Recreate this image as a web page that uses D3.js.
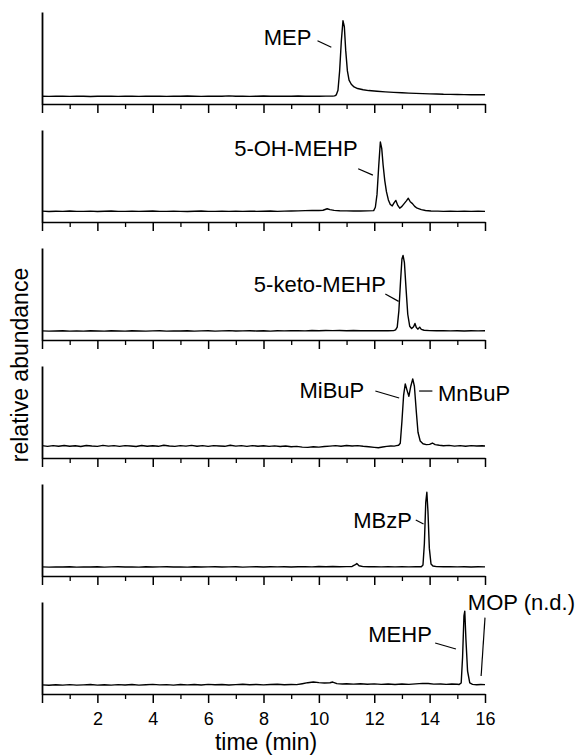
<!DOCTYPE html>
<html><head><meta charset="utf-8">
<script src="https://cdn.jsdelivr.net/npm/d3@7"></script>
<style>body{margin:0;background:#fff}svg{display:block}</style>
</head><body>
<svg id="chart" width="581" height="756"></svg>
<script>
// ---------- data ----------
const majorTicks = [0, 2, 4, 6, 8, 10, 12, 14, 16];
const minorTicks = [1, 3, 5, 7, 9, 11, 13, 15];
const tickLabels = ["", "2", "4", "6", "8", "10", "12", "14", "16"];
const xTitle = "time (min)";
const yTitle = "relative abundance";

// [time (min), relative signal]
const traceMEP = [[0,8.5],[0.25,8.3],[0.5,8.4],[0.75,8.6],[1,8.3],[1.25,8.5],[1.5,8.4],[1.75,8.2],[2,8.5],[2.25,8.4],[2.5,8.6],[2.75,8.3],[3,8.4],[3.25,8.5],[3.5,8.3],[3.75,8.6],[4,8.4],[4.25,8.5],[4.5,8.3],[4.75,8.6],[5,8.4],[5.25,8.7],[5.5,8.5],[5.75,8.3],[6,8.6],[6.25,8.4],[6.5,8.5],[6.75,8.8],[7,8.4],[7.25,8.6],[7.5,8.3],[7.75,8.5],[8,8.7],[8.25,8.4],[8.5,8.6],[8.75,8.5],[9,8.4],[9.25,8.7],[9.5,8.5],[9.75,8.6],[10,8.4],[10.25,8.6],[10.5,8.6],[10.57,8.8],[10.63,10],[10.69,15],[10.75,36],[10.81,68],[10.87,90.5],[10.92,84],[10.97,58],[11.03,36],[11.09,26],[11.17,21.5],[11.27,18.5],[11.4,16.8],[11.6,15.5],[11.8,14.6],[12.1,13.8],[12.4,13.2],[12.7,12.6],[13,12.2],[13.25,11.8],[13.5,11.5],[13.75,11.3],[14,11],[14.25,10.9],[14.5,10.6],[14.75,10.5],[15,10.4],[15.25,10.2],[15.5,10.1],[15.75,10.2],[16,10]];

const trace5OH = [[0,11.8],[0.25,11.4],[0.5,11.7],[0.75,11.5],[1,11.9],[1.25,11.5],[1.5,11.6],[1.75,11.8],[2,11.4],[2.25,11.7],[2.5,11.9],[2.75,11.5],[3,11.6],[3.25,11.8],[3.5,11.5],[3.75,11.7],[4,11.9],[4.25,11.5],[4.5,11.6],[4.75,11.8],[5,11.6],[5.25,11.4],[5.5,11.7],[5.75,11.9],[6,11.6],[6.25,11.5],[6.5,11.8],[6.75,11.6],[7,11.7],[7.25,11.5],[7.5,11.8],[7.75,11.6],[8,11.7],[8.25,11.9],[8.5,11.6],[8.75,11.8],[9,11.9],[9.25,12.1],[9.5,12.4],[9.75,12.6],[10,12.5],[10.15,12.8],[10.3,14.4],[10.4,13.4],[10.55,12.6],[10.75,12.2],[11,12.1],[11.25,12],[11.5,11.9],[11.75,12.1],[11.98,12.4],[12.04,16],[12.1,30],[12.16,60],[12.22,87],[12.27,80],[12.32,62],[12.38,45],[12.44,33],[12.51,24],[12.58,19],[12.65,17.5],[12.72,21],[12.78,23.5],[12.85,18],[12.92,15],[13,17],[13.08,20],[13.16,23],[13.23,25.8],[13.3,22],[13.38,20],[13.46,17],[13.55,15],[13.7,13.4],[13.85,12.5],[14.05,12],[14.3,11.8],[14.5,11.6],[14.75,11.8],[15,11.5],[15.25,11.7],[15.5,11.6],[15.75,11.8],[16,11.6]];

const traceKeto = [[0,9.9],[0.25,9.6],[0.5,9.8],[0.75,10.1],[1,9.7],[1.25,9.9],[1.5,9.6],[1.75,10],[2,9.8],[2.25,9.6],[2.5,10],[2.75,9.8],[3,9.7],[3.25,10.1],[3.5,9.8],[3.75,9.6],[4,9.9],[4.25,10.1],[4.5,9.7],[4.75,9.9],[5,9.8],[5.25,10.1],[5.5,9.7],[5.75,9.9],[6,10],[6.25,9.7],[6.5,9.9],[6.75,10.2],[7,9.8],[7.25,9.9],[7.5,10.1],[7.75,9.8],[8,10],[8.25,9.7],[8.5,10.1],[8.75,9.9],[9,10],[9.25,10.2],[9.5,9.9],[9.75,10.3],[10,10.1],[10.25,10.4],[10.5,10.2],[10.75,10.3],[11,10.1],[11.25,10.3],[11.5,10],[11.75,10.2],[12,10],[12.25,10.2],[12.5,10],[12.7,10.2],[12.77,11],[12.83,14],[12.89,32],[12.95,64],[13,88],[13.04,92],[13.09,84],[13.15,55],[13.21,28],[13.28,15],[13.35,12.5],[13.42,14.5],[13.47,18],[13.52,13.5],[13.58,11.8],[13.64,14],[13.7,11.5],[13.8,10.6],[14,10.2],[14.25,10],[14.5,10.2],[14.75,9.9],[15,10.1],[15.25,9.8],[15.5,10],[15.75,9.9],[16,10]];

const traceBuP = [[0,13.4],[0.2,12.6],[0.4,13.5],[0.6,12.8],[0.8,13.6],[1,12.7],[1.2,13.3],[1.4,12.5],[1.6,13.6],[1.8,13],[2,12.6],[2.2,13.7],[2.4,12.9],[2.6,13.4],[2.8,12.6],[3,13.5],[3.2,13],[3.4,12.5],[3.6,13.6],[3.8,12.8],[4,13.3],[4.2,12.7],[4.4,13.8],[4.6,13],[4.8,12.6],[5,13.5],[5.2,12.9],[5.4,13.7],[5.6,12.8],[5.8,13.4],[6,12.6],[6.2,13.5],[6.4,13.1],[6.6,12.7],[6.8,13.8],[7,12.9],[7.2,13.4],[7.4,12.6],[7.6,13.5],[7.8,12.8],[8,13.3],[8.2,12.6],[8.4,13.2],[8.6,12.5],[8.8,13],[9,12.2],[9.2,12.6],[9.4,11.8],[9.6,11.6],[9.8,12.2],[10,11.8],[10.2,12.5],[10.4,12.9],[10.6,13.4],[10.8,12.8],[11,13.6],[11.2,13.1],[11.4,13.5],[11.6,12.7],[11.8,12.2],[12,11.6],[12.15,11.2],[12.3,11.9],[12.45,12.6],[12.6,13.1],[12.72,12.9],[12.8,13.4],[12.88,13.8],[12.94,16],[13,40],[13.06,68],[13.12,80.5],[13.18,74],[13.25,67],[13.32,78],[13.39,86],[13.45,78],[13.52,50],[13.58,28],[13.66,18.5],[13.76,15.5],[13.88,14.5],[14,14.8],[14.1,16.3],[14.2,14.5],[14.35,13.8],[14.5,13.3],[14.7,13.7],[14.9,12.9],[15.1,13.5],[15.3,12.8],[15.5,13.4],[15.7,13],[15.9,13.3],[16,13]];

const traceMBzP = [[0,9.9],[0.25,9.7],[0.5,9.9],[0.75,9.8],[1,10],[1.25,9.7],[1.5,9.9],[1.75,9.8],[2,10],[2.25,9.7],[2.5,9.9],[2.75,10.1],[3,9.8],[3.25,9.9],[3.5,9.7],[3.75,10],[4,9.8],[4.25,9.9],[4.5,10.1],[4.75,9.8],[5,9.9],[5.25,9.7],[5.5,10],[5.75,9.8],[6,9.9],[6.25,10.1],[6.5,9.8],[6.75,9.9],[7,10],[7.25,9.7],[7.5,9.9],[7.75,10.1],[8,9.8],[8.25,10],[8.5,9.9],[8.75,10.1],[9,9.8],[9.25,10],[9.5,10.2],[9.75,9.9],[10,10.4],[10.25,10.1],[10.5,10.3],[10.75,10],[11,10.2],[11.2,10.4],[11.3,12],[11.37,13.5],[11.45,11.2],[11.6,10.2],[11.8,10],[12,10.2],[12.25,9.9],[12.5,10.1],[12.75,9.9],[13,10.1],[13.25,9.9],[13.5,10.1],[13.7,10.1],[13.76,12],[13.81,35],[13.86,80],[13.9,91],[13.94,70],[13.99,30],[14.05,13],[14.12,10.8],[14.25,10.2],[14.5,10],[14.75,10.1],[15,9.9],[15.25,10],[15.5,9.8],[15.75,10],[16,9.9]];

const traceMEHP = [[0,9.9],[0.25,9.5],[0.5,10.1],[0.75,9.7],[1,10.2],[1.25,9.6],[1.5,9.9],[1.75,10.3],[2,9.7],[2.25,10],[2.5,9.6],[2.75,10.2],[3,9.8],[3.25,10.3],[3.5,9.7],[3.75,10.1],[4,10.5],[4.25,9.9],[4.5,10.2],[4.75,9.7],[5,10.3],[5.25,9.9],[5.5,10.4],[5.75,9.8],[6,10.5],[6.25,10],[6.5,10.3],[6.75,9.8],[7,10.2],[7.25,10.6],[7.5,10],[7.75,10.4],[8,9.9],[8.25,10.3],[8.5,10.6],[8.75,10.1],[9,10.4],[9.2,10.2],[9.4,11.2],[9.6,12.3],[9.8,13.1],[10,12.4],[10.2,11.9],[10.4,12.2],[10.5,13],[10.65,11.3],[10.85,10.8],[11,11.2],[11.25,10.7],[11.5,11.1],[11.75,10.6],[12,11],[12.25,10.5],[12.5,10.9],[12.75,10.4],[13,10.8],[13.25,10.5],[13.5,11],[13.75,11.6],[13.95,11.4],[14.15,10.7],[14.4,10.9],[14.6,10.5],[14.8,10.8],[15,10.6],[15.07,10.4],[15.14,12],[15.19,40],[15.24,85],[15.27,90],[15.31,60],[15.37,25],[15.45,12],[15.55,10.5],[15.7,10],[15.85,10.4],[16,10.2]];

// labels: [text, time, signal, anchor] and leader lines [t1, v1, t2, v2]
const labelsMEP   = [["MEP", 9.73, 64, "end"]];
const leadersMEP  = [[9.95, 68.8, 10.45, 61.6]];
const labels5OH   = [["5-OH-MEHP", 11.4, 71.7, "end"]];
const leaders5OH  = [[11.42, 57.9, 11.95, 51]];
const labelsKeto  = [["5-keto-MEHP", 12.42, 52, "end"]];
const leadersKeto = [[12.4, 50, 12.88, 42]];
const labelsBuP   = [["MiBuP", 11.64, 65.2, "end"], ["MnBuP", 14.3, 62, "start"]];
const leadersBuP  = [[12.04, 72.8, 12.9, 65.2], [13.62, 72.8, 14.1, 72.8]];
const labelsMBzP  = [["MBzP", 13.36, 52, "end"]];
const leadersMBzP = [[13.5, 60.9, 13.78, 56.5]];
const labelsMEHP  = [["MEHP", 14.08, 56, "end"], ["MOP (n.d.)", 15.38, 91, "start"]];
const leadersMEHP = [[14.2, 55.4, 14.95, 48.9], [16.0, 83, 15.86, 19.5]];

// ---------- layout ----------
const W = 581, H = 756;
const left = 42, right = 485;
const firstAxisY = 104, panelStep = 118, panelH = 92;
const majorLen = 9, minorLen = 5;
const font = "'Liberation Sans', Arial, Helvetica, sans-serif";

const panels = [
  { trace: traceMEP,  labels: labelsMEP,  leaders: leadersMEP },
  { trace: trace5OH,  labels: labels5OH,  leaders: leaders5OH },
  { trace: traceKeto, labels: labelsKeto, leaders: leadersKeto },
  { trace: traceBuP,  labels: labelsBuP,  leaders: leadersBuP },
  { trace: traceMBzP, labels: labelsMBzP, leaders: leadersMBzP },
  { trace: traceMEHP, labels: labelsMEHP, leaders: leadersMEHP }
];

const svg = d3.select("#chart");
const x = d3.scaleLinear().domain([0, 16]).range([left, right]);

panels.forEach((p, i) => {
  const axisY = firstAxisY + i * panelStep;
  const y = d3.scaleLinear().domain([0, 100]).range([axisY, axisY - panelH]);
  const g = svg.append("g");

  const isLast = i === panels.length - 1;
  const major = d3.axisBottom(x).tickValues(majorTicks).tickSize(majorLen).tickSizeOuter(0)
    .tickFormat((d, k) => isLast ? tickLabels[k] : "");
  const gMaj = g.append("g").attr("transform", `translate(0,${axisY})`).call(major);
  gMaj.select(".domain").attr("stroke", "#000").attr("stroke-width", 1.6);
  gMaj.selectAll(".tick line").attr("stroke", "#000").attr("stroke-width", 1.5);
  gMaj.selectAll(".tick text").attr("font-family", font).attr("font-size", 18)
    .attr("fill", "#000").attr("dy", "1.05em");

  const minor = d3.axisBottom(x).tickValues(minorTicks).tickSize(minorLen).tickFormat("");
  const gMin = g.append("g").attr("transform", `translate(0,${axisY})`).call(minor);
  gMin.select(".domain").remove();
  gMin.selectAll(".tick line").attr("stroke", "#000").attr("stroke-width", 1.3);

  const yAxis = d3.axisLeft(y).tickValues([]).tickSizeOuter(0);
  const gY = g.append("g").attr("transform", `translate(${left},0)`).call(yAxis);
  gY.select(".domain").attr("stroke", "#000").attr("stroke-width", 1.8);

  const line = d3.line().x(d => x(d[0])).y(d => y(d[1]));
  g.append("path").datum(p.trace).attr("d", line)
    .attr("fill", "none").attr("stroke", "#000").attr("stroke-width", 1.4)
    .attr("stroke-linejoin", "round");

  g.selectAll("text.lab").data(p.labels).join("text").attr("class", "lab")
    .attr("x", d => x(d[1])).attr("y", d => y(d[2]))
    .attr("text-anchor", d => d[3])
    .attr("font-family", font).attr("font-size", 22).attr("fill", "#000")
    .text(d => d[0]);
  g.selectAll("line.lead").data(p.leaders).join("line").attr("class", "lead")
    .attr("x1", d => x(d[0])).attr("y1", d => y(d[1]))
    .attr("x2", d => x(d[2])).attr("y2", d => y(d[3]))
    .attr("stroke", "#000").attr("stroke-width", 1.2);
});

svg.append("text").attr("x", 266).attr("y", 750)
  .attr("text-anchor", "middle").attr("font-family", font).attr("font-size", 23)
  .attr("fill", "#000").text(xTitle);
svg.append("text").attr("transform", "translate(28,365) rotate(-90)")
  .attr("text-anchor", "middle").attr("font-family", font).attr("font-size", 23)
  .attr("fill", "#000").text(yTitle);
</script>
</body></html>
